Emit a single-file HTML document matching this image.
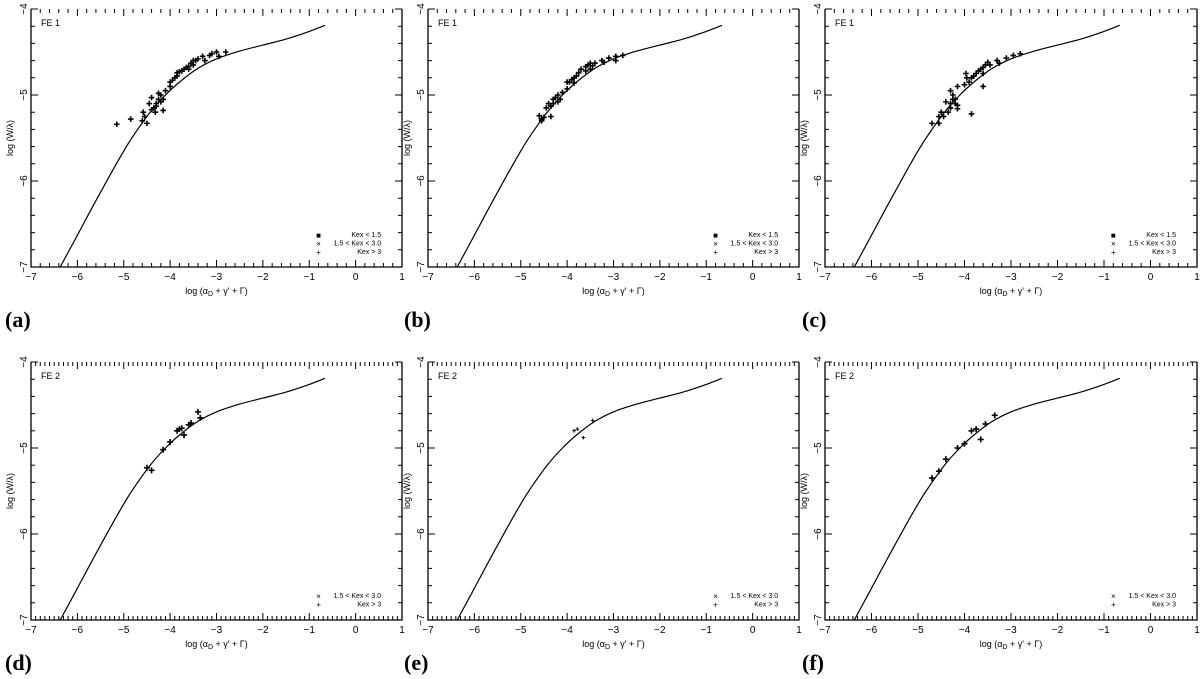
<!DOCTYPE html>
<html><head><meta charset="utf-8"><style>
html,body{margin:0;padding:0;background:#fff;}
svg{display:block;font-family:"Liberation Sans",sans-serif;}
.pl{font-family:"Liberation Serif",serif;font-weight:bold;font-size:22px;}
</style></head><body>
<svg id="fig" width="1200" height="679" viewBox="0 0 1200 679">
<text class="pl" x="5" y="327">(a)</text>
<text class="pl" x="404" y="327">(b)</text>
<text class="pl" x="802" y="327">(c)</text>
<text class="pl" x="5" y="670">(d)</text>
<text class="pl" x="404" y="670">(e)</text>
<text class="pl" x="802" y="670">(f)</text>
</svg>
<script>
const xTicks = [-7,-6,-5,-4,-3,-2,-1,0,1];
const yTicks = [-7,-6,-5,-4];
const curveX = [-6.37,-6.0,-5.5,-5.0,-4.7,-4.4,-4.1,-3.8,-3.4,-3.0,-2.5,-2.0,-1.5,-1.0,-0.66];
const curveY = [-7,-6.63,-6.13,-5.65,-5.4,-5.18,-5.0,-4.85,-4.69,-4.58,-4.49,-4.42,-4.35,-4.26,-4.19];
const aX = [-5.15,-4.85,-4.58,-4.55,-4.6,-4.5,-4.45,-4.4,-4.35,-4.3,-4.3,-4.25,-4.25,-4.2,-4.2,-4.15,-4.15,-4.4,-4.0,-4.0,-3.95,-3.9,-3.85,-3.85,-3.8,-3.7,-3.65,-3.6,-3.6,-3.55,-3.5,-3.45,-3.4,-3.3,-3.25,-3.15,-3.1,-3.0,-2.95,-2.8,-3.5,-4.32,-4.1,-3.75];
const aY = [-5.34,-5.28,-5.2,-5.25,-5.3,-5.33,-5.1,-5.17,-5.15,-5.13,-5.1,-5.05,-4.98,-5.0,-5.08,-5.05,-5.18,-5.03,-4.9,-4.85,-4.83,-4.8,-4.78,-4.74,-4.73,-4.7,-4.68,-4.67,-4.7,-4.63,-4.6,-4.6,-4.58,-4.55,-4.6,-4.54,-4.52,-4.5,-4.55,-4.5,-4.65,-5.2,-4.95,-4.72];
const bX = [-4.6,-4.55,-4.55,-4.5,-4.45,-4.4,-4.35,-4.3,-4.3,-4.25,-4.2,-4.2,-4.15,-4.1,-4.0,-4.0,-3.95,-3.9,-3.85,-3.8,-3.75,-3.7,-3.6,-3.6,-3.55,-3.5,-3.5,-3.45,-3.4,-3.25,-3.2,-3.1,-2.95,-2.95,-2.8,-4.35,-3.85];
const bY = [-5.24,-5.28,-5.3,-5.26,-5.15,-5.1,-5.13,-5.05,-5.1,-5.03,-5.0,-5.08,-5.05,-4.97,-4.85,-4.93,-4.85,-4.82,-4.86,-4.78,-4.74,-4.7,-4.67,-4.72,-4.65,-4.63,-4.7,-4.66,-4.63,-4.6,-4.62,-4.57,-4.55,-4.6,-4.54,-5.25,-4.8];
const cX = [-4.7,-4.55,-4.55,-4.5,-4.45,-4.4,-4.35,-4.3,-4.3,-4.25,-4.25,-4.2,-4.2,-4.15,-4.15,-4.3,-4.15,-4.0,-3.95,-3.9,-3.85,-3.8,-3.75,-3.7,-3.65,-3.6,-3.6,-3.55,-3.5,-3.45,-3.3,-3.25,-3.1,-2.95,-2.8,-3.85,-3.6,-3.97];
const cY = [-5.33,-5.33,-5.25,-5.2,-5.25,-5.08,-5.2,-5.15,-5.1,-5.05,-5.0,-5.1,-5.05,-5.12,-5.16,-4.95,-4.9,-4.88,-4.8,-4.85,-4.8,-4.78,-4.75,-4.72,-4.7,-4.68,-4.75,-4.65,-4.62,-4.65,-4.6,-4.63,-4.57,-4.54,-4.52,-5.22,-4.9,-4.75];
const dX = [-4.5,-4.4,-4.15,-4.0,-3.85,-3.8,-3.75,-3.7,-3.6,-3.55,-3.4,-3.35];
const dY = [-5.23,-5.26,-5.02,-4.93,-4.8,-4.78,-4.77,-4.85,-4.73,-4.71,-4.58,-4.65];
const eX = [-3.85,-3.78,-3.65,-3.45];
const eY = [-4.8,-4.78,-4.88,-4.68];
const fX = [-4.7,-4.55,-4.4,-4.15,-4.0,-3.85,-3.75,-3.65,-3.55,-3.35];
const fY = [-5.35,-5.27,-5.13,-5.0,-4.95,-4.8,-4.78,-4.9,-4.72,-4.62];

const NS='http://www.w3.org/2000/svg';
const svg=document.getElementById('fig');
function mk(tag,attrs,parent){const e=document.createElementNS(NS,tag);for(const k in attrs)e.setAttribute(k,attrs[k]);(parent||svg).appendChild(e);return e;}

const panels=[
 {id:'a',L:31,R:402,T:9,B:267,label:'FE 1',xs:aX,ys:aY,legend:3,minorX:0.2,mk:2.8},
 {id:'b',L:428,R:799,T:9,B:267,label:'FE 1',xs:bX,ys:bY,legend:3,minorX:0.2,mk:2.8},
 {id:'c',L:825,R:1197,T:9,B:267,label:'FE 1',xs:cX,ys:cY,legend:3,minorX:0.2,mk:2.8},
 {id:'d',L:31,R:402,T:362,B:620,label:'FE 2',xs:dX,ys:dY,legend:2,minorX:0.1,mk:3},
 {id:'e',L:428,R:799,T:362,B:620,label:'FE 2',xs:eX,ys:eY,legend:2,minorX:0.1,mk:1.8},
 {id:'f',L:825,R:1197,T:362,B:620,label:'FE 2',xs:fX,ys:fY,legend:2,minorX:0.1,mk:3}
];

panels.forEach(p=>{
  const g=mk('g',{});
  
  
  const sx=v=>p.L+(v+7)/8*(p.R-p.L);
  const sy=v=>p.B-(v+7)/3*(p.B-p.T);
  const ax=mk('path',{d:`M${p.L},${p.T}V${p.B}H${p.R}V${p.T}`,fill:'none',stroke:'#000','stroke-width':1.3},g);
  
  
  let d='';
  const nx=Math.round(8/p.minorX);
  for(let i=0;i<=nx;i++){const v=-7+i*p.minorX;const x=sx(v);const maj=Math.abs(v-Math.round(v))<1e-6;const l=maj?7:4;
    d+=`M${x},${p.B}v${-l}M${x},${p.T}v${l}`;}
  for(let i=0;i<=15;i++){const v=-7+i*0.2;const y=sy(v);const maj=Math.abs(v-Math.round(v))<1e-6;const l=maj?7:4;
    d+=`M${p.L},${y}h${l}M${p.R},${y}h${-l}`;}
  const tk=mk('path',{d:d,stroke:'#000','stroke-width':1},g);
  
  
  xTicks.forEach(v=>{const t=mk('text',{x:sx(v),y:p.B+13,'font-size':10,'text-anchor':'middle'},g);t.textContent=(v<0?'−':'')+Math.abs(v);
    
    });
  yTicks.forEach(v=>{const t=mk('text',{x:0,y:0,'font-size':10,'text-anchor':'middle',transform:`translate(${p.L-4},${sy(v)}) rotate(-90)`},g);t.textContent='−'+Math.abs(v);
    
    });
  const xt=mk('text',{x:(p.L+p.R)/2,y:p.B+27,'font-size':9,'text-anchor':'middle'},g);
  xt.innerHTML='log (α<tspan font-size="7" dy="2">D</tspan><tspan dy="-2"> + γ\' + Γ)</tspan>';
  
  
  const yt=mk('text',{x:0,y:0,'font-size':9,'text-anchor':'middle',transform:`translate(${p.L-18},${(p.T+p.B)/2}) rotate(-90)`},g);
  yt.textContent='log (W/λ)';
  
  
  const lb=mk('text',{x:p.L+10,y:p.T+17,'font-size':9},g);
  lb.textContent=p.label;
  
  
  const P=curveX.map((v,i)=>[sx(v),sy(curveY[i])]);
  let cd=`M${P[0][0].toFixed(1)},${P[0][1].toFixed(1)}`;
  for(let i=0;i<P.length-1;i++){const p0=P[Math.max(0,i-1)],p1=P[i],p2=P[i+1],p3=P[Math.min(P.length-1,i+2)];
    const c1=[p1[0]+(p2[0]-p0[0])/6,p1[1]+(p2[1]-p0[1])/6],c2=[p2[0]-(p3[0]-p1[0])/6,p2[1]-(p3[1]-p1[1])/6];
    cd+=`C${c1[0].toFixed(1)},${c1[1].toFixed(1)} ${c2[0].toFixed(1)},${c2[1].toFixed(1)} ${p2[0].toFixed(1)},${p2[1].toFixed(1)}`;}
  const cv=mk('path',{d:cd,fill:'none',stroke:'#000','stroke-width':1.2},g);
  
  
  const s=p.mk;
  p.xs.forEach((v,i)=>{const x=sx(v),y=sy(p.ys[i]);
    const m=mk('path',{d:`M${x-s},${y}h${2*s}M${x},${y-s}v${2*s}`,stroke:'#000','stroke-width':s>2?1.6:1},g);
    
    });
  const lx=sx(-0.8);
  const tEnd=sx(0.55);
  const items=p.legend===3?[['■','Kex < 1.5'],['×','1.5 < Kex < 3.0'],['+','Kex > 3']]:[['×','1.5 < Kex < 3.0'],['+','Kex > 3']];
  const ly0=p.legend===3?p.B-30:p.B-22;
  items.forEach((it,i)=>{const y=ly0+i*8.5;
    const sym=mk('text',{x:lx,y:y+1,'font-size':8,'text-anchor':'middle'},g);sym.textContent=it[0];
    
    
    const tx=mk('text',{x:tEnd,y:y,'font-size':7,'text-anchor':'end'},g);tx.textContent=it[1];
    
    });
});
</script>
</body></html>
